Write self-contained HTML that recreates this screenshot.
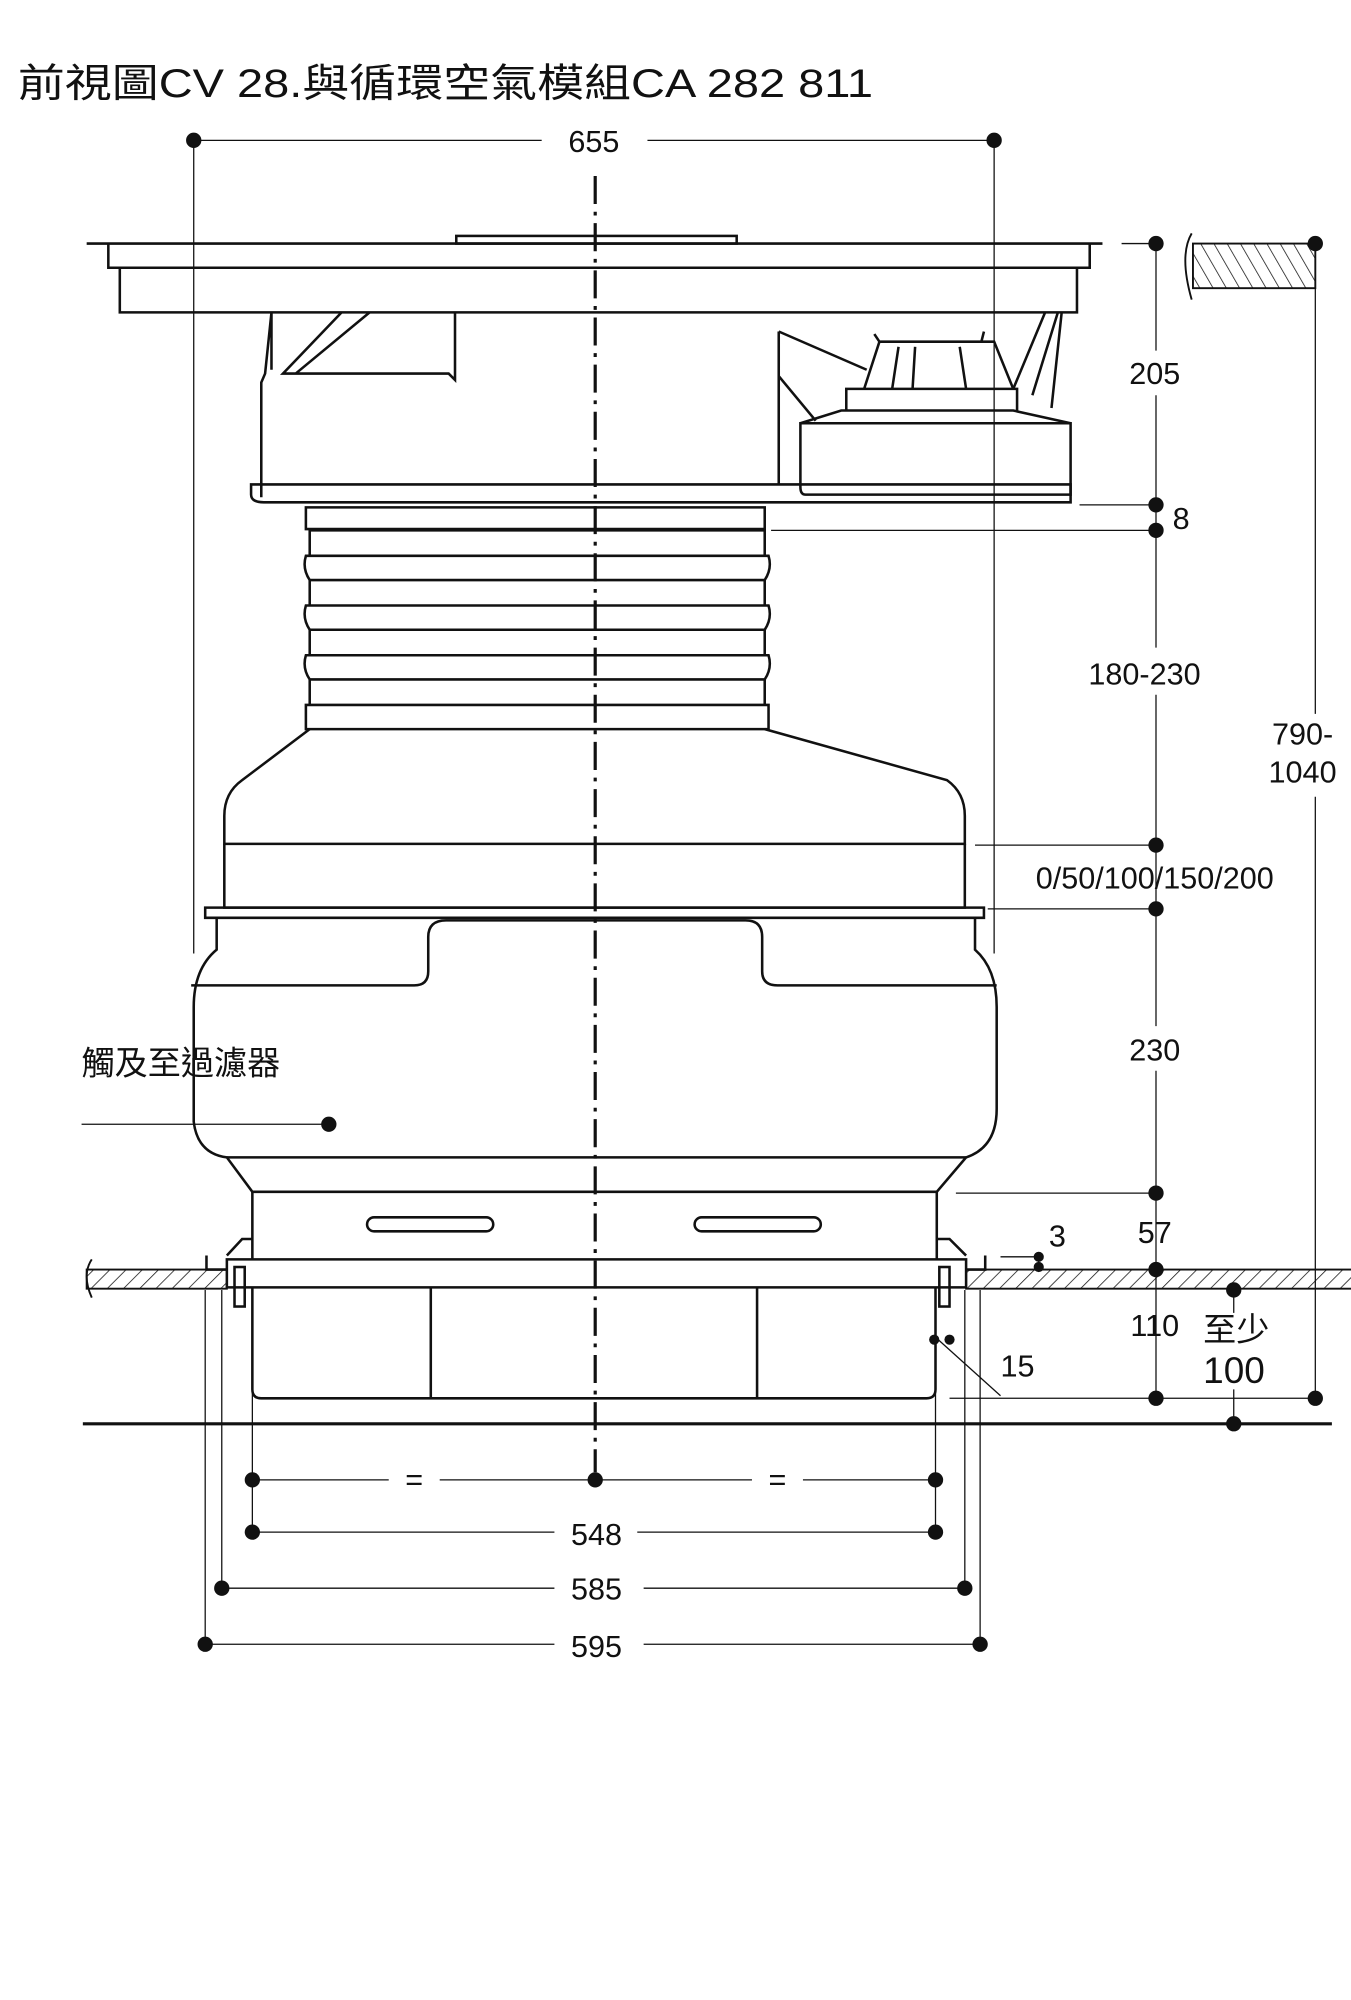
<!DOCTYPE html>
<html><head><meta charset="utf-8"><style>
html,body{margin:0;padding:0;background:#fff}
svg{display:block}
text{font-family:"Liberation Sans","Noto Sans CJK TC",sans-serif;fill:#111}
</style></head><body>
<svg width="1351" height="2000" viewBox="0 0 1060 1569" xmlns="http://www.w3.org/2000/svg">
<defs>
<pattern id="h" width="9" height="9" patternUnits="userSpaceOnUse" patternTransform="rotate(45)"><line x1="0" y1="0" x2="0" y2="9" stroke="#111" stroke-width="1.2"/></pattern>
<pattern id="h2" width="9" height="9" patternUnits="userSpaceOnUse" patternTransform="rotate(-30)"><line x1="0" y1="0" x2="0" y2="9" stroke="#111" stroke-width="1.2"/></pattern>
</defs>
<text x="14" y="76" font-size="31" textLength="671" lengthAdjust="spacingAndGlyphs">前視圖CV 28.與循環空氣模組CA 282 811</text>
<g stroke="#111" fill="none" stroke-width="1">
<line x1="152" y1="110" x2="425" y2="110"/><line x1="508" y1="110" x2="780" y2="110"/>
<line x1="152" y1="110" x2="152" y2="748"/><line x1="780" y1="110" x2="780" y2="748"/>
<line x1="467" y1="138" x2="467" y2="1155" stroke-width="2.5" stroke-dasharray="22,6,3,6"/>
<g stroke-width="2">
<path d="M68 191 H865"/>
<rect x="358" y="185" width="220" height="6"/>
<path d="M85 191 V210 H855 V191"/>
<path d="M94 210 V245 H845 V210"/>
<path d="M213 245 L208 293 L205 300 V390 M213 245 V290 M357 245 V298 L352 293 H222 L268 245 M232 293 L290 245"/>
<path d="M197 380 H840 V394 H207 Q197 394 197 388 Z"/>
<path d="M628 332 H840 V388 H632 Q628 388 628 382 Z M628 332 L660 322 H795 L840 332"/>
<path d="M664 322 V305 H798 V322 M678 305 L690 268 H780 L795 305 M690 268 L686 262 M770 268 L772 260 M700 305 L705 272 M716 305 L718 272 M758 305 L753 272"/>
<path d="M611 260 L680 290 M611 260 V380 M611 295 L640 330 M795 305 L820 245 M810 310 L830 245 M825 320 L833 245"/>
<path d="M240 398 H600 V415 H240 Z"/>
<path d="M243 415 V436 M600 415 V436"/>
<path d="M243 416 H600 M240 436 H603 Q606 446 600 455 H243 Q237 446 240 436 Z"/>
<path d="M243 455 V475 M600 455 V475 M240 475 H603 Q606 485 600 494 H243 Q237 485 240 475 Z"/>
<path d="M243 494 V514 M600 494 V514 M240 514 H603 Q606 524 600 533 H243 Q237 524 240 514 Z"/>
<path d="M243 533 V553 M600 533 V553 M240 553 H603 V572 H240 Z"/>
<path d="M243 572 L190 612 Q176 622 176 640 V662 H757 V640 Q757 622 743 612 L600 572"/>
<path d="M176 662 V712 H757 V662"/>
<path d="M161 712 H772 V720 H161 Z"/>
<path d="M170 720 V745 Q152 760 152 790 V880 Q155 905 178 908 L198 935 H735 L758 908 Q782 900 782 870 V790 Q782 760 765 745 V720"/>
<path d="M178 908 H758"/>
<path d="M150 773 H325 Q336 773 336 762 V735 Q336 722 350 722 H585 Q598 722 598 735 V762 Q598 773 610 773 H782"/>
<path d="M198 935 V988 M735 935 V988"/>
<rect x="288" y="955" width="99" height="11" rx="5.5"/>
<rect x="545" y="955" width="99" height="11" rx="5.5"/>
<path d="M178 988 H758 V1010 H178 Z"/>
<path d="M198 1010 V1090 Q198 1097 205 1097 H727 Q734 1097 734 1090 V1010 M338 1010 V1097 M594 1010 V1097"/>
<path d="M178 985 L190 972 H198 M758 985 L745 972 H735"/>
<rect x="184" y="994" width="8" height="31"/><rect x="737" y="994" width="8" height="31"/>
<path d="M162 985 V996 H178 M773 985 V996 H758"/>
</g>
<rect x="68" y="996" width="110" height="15" fill="url(#h)" stroke-width="1.5"/>
<rect x="758" y="996" width="310" height="15" fill="url(#h)" stroke-width="1.5"/>
<path d="M72 988 Q64 1000 72 1018 M935 183 Q925 200 935 235" stroke-width="1.5"/>
<rect x="936" y="191" width="96" height="35" fill="url(#h2)" stroke-width="1.5"/>
<line x1="65" y1="1117" x2="1045" y2="1117" stroke-width="2.5"/>
<line x1="880" y1="191" x2="907" y2="191"/>
<line x1="907" y1="191" x2="907" y2="275"/><line x1="907" y1="310" x2="907" y2="508"/><line x1="907" y1="545" x2="907" y2="805"/><line x1="907" y1="840" x2="907" y2="1097"/>
<line x1="847" y1="396" x2="907" y2="396"/><line x1="605" y1="416" x2="907" y2="416"/>
<line x1="765" y1="663" x2="907" y2="663"/><line x1="775" y1="713" x2="907" y2="713"/>
<line x1="750" y1="936" x2="907" y2="936"/>
<line x1="1032" y1="191" x2="1032" y2="560"/><line x1="1032" y1="625" x2="1032" y2="1097"/>
<line x1="745" y1="1097" x2="1032" y2="1097"/>
<line x1="968" y1="1012" x2="968" y2="1030"/><line x1="968" y1="1090" x2="968" y2="1117"/>
<line x1="785" y1="986" x2="815" y2="986"/><line x1="815" y1="983" x2="815" y2="996"/>
<line x1="735" y1="1050" x2="785" y2="1095"/>
<line x1="64" y1="882" x2="258" y2="882"/>
<line x1="198" y1="1010" x2="198" y2="1202"/><line x1="734" y1="1010" x2="734" y2="1202"/>
<line x1="174" y1="1012" x2="174" y2="1246"/><line x1="757" y1="1012" x2="757" y2="1246"/>
<line x1="161" y1="1012" x2="161" y2="1290"/><line x1="769" y1="1012" x2="769" y2="1290"/>
<line x1="198" y1="1161" x2="305" y2="1161"/><line x1="345" y1="1161" x2="590" y2="1161"/><line x1="630" y1="1161" x2="734" y2="1161"/>
<line x1="198" y1="1202" x2="435" y2="1202"/><line x1="500" y1="1202" x2="734" y2="1202"/>
<line x1="174" y1="1246" x2="435" y2="1246"/><line x1="505" y1="1246" x2="757" y2="1246"/>
<line x1="161" y1="1290" x2="435" y2="1290"/><line x1="505" y1="1290" x2="769" y2="1290"/>
</g>
<g fill="#111">
<circle cx="152" cy="110" r="6"/><circle cx="780" cy="110" r="6"/>
<circle cx="907" cy="191" r="6"/><circle cx="1032" cy="191" r="6"/>
<circle cx="907" cy="396" r="6"/><circle cx="907" cy="416" r="6"/>
<circle cx="907" cy="663" r="6"/><circle cx="907" cy="713" r="6"/>
<circle cx="907" cy="936" r="6"/><circle cx="907" cy="996" r="6"/>
<circle cx="907" cy="1097" r="6"/><circle cx="1032" cy="1097" r="6"/>
<circle cx="968" cy="1012" r="6"/><circle cx="968" cy="1117" r="6"/>
<circle cx="815" cy="986" r="4"/><circle cx="815" cy="994" r="4"/>
<circle cx="733" cy="1051" r="4"/><circle cx="745" cy="1051" r="4"/>
<circle cx="258" cy="882" r="6"/>
<circle cx="198" cy="1161" r="6"/><circle cx="467" cy="1161" r="6"/><circle cx="734" cy="1161" r="6"/>
<circle cx="198" cy="1202" r="6"/><circle cx="734" cy="1202" r="6"/>
<circle cx="174" cy="1246" r="6"/><circle cx="757" cy="1246" r="6"/>
<circle cx="161" cy="1290" r="6"/><circle cx="769" cy="1290" r="6"/>
</g>
<g font-size="24">
<text x="466" y="119" text-anchor="middle">655</text>
<text x="906" y="301" text-anchor="middle">205</text>
<text x="920" y="415">8</text>
<text x="898" y="537" text-anchor="middle">180-230</text>
<text x="1022" y="584" text-anchor="middle">790-</text>
<text x="1022" y="614" text-anchor="middle">1040</text>
<text x="906" y="697" text-anchor="middle">0/50/100/150/200</text>
<text x="906" y="832" text-anchor="middle">230</text>
<text x="64" y="843" font-size="26">觸及至過濾器</text>
<text x="823" y="978">3</text>
<text x="906" y="975" text-anchor="middle">57</text>
<text x="906" y="1048" text-anchor="middle">110</text>
<text x="944" y="1052" font-size="26">至少</text>
<text x="944" y="1085" font-size="29">100</text>
<text x="785" y="1080">15</text>
<text x="325" y="1169" text-anchor="middle">=</text>
<text x="610" y="1169" text-anchor="middle">=</text>
<text x="468" y="1212" text-anchor="middle">548</text>
<text x="468" y="1255" text-anchor="middle">585</text>
<text x="468" y="1300" text-anchor="middle">595</text>
</g>
</svg>
</body></html>
